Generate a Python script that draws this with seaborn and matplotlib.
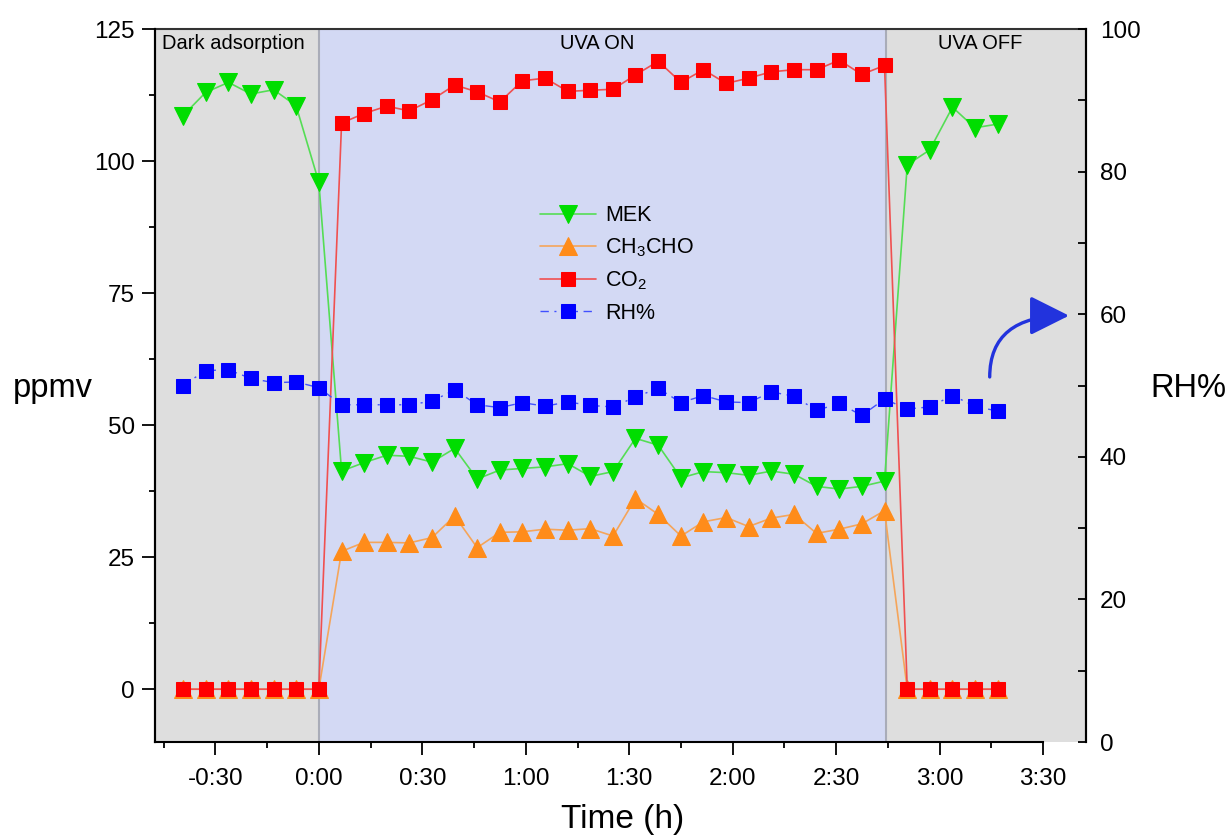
import matplotlib
matplotlib.use("Agg")
import matplotlib.pyplot as plt
from matplotlib.ticker import MultipleLocator, FuncFormatter
from matplotlib.patches import FancyArrowPatch
import pandas as pd
import seaborn as sns

# time of each sample, minutes relative to UVA switch-on
time_min = [-39.4, -32.8, -26.2, -19.7, -13.1, -6.6, 0.0,
            6.6, 13.1, 19.7, 26.2, 32.8, 39.4, 45.9, 52.5, 59.0, 65.6,
            72.2, 78.7, 85.3, 91.8, 98.4, 105.0, 111.5, 118.1, 124.6,
            131.2, 137.8, 144.3, 150.9, 157.4, 164.0,
            170.6, 177.1, 183.7, 190.2, 196.8]

mek = [108.6, 113.0, 114.9, 112.7, 113.5, 110.5, 96.0,
       41.3, 42.9, 44.3, 44.1, 43.0, 45.6, 39.8, 41.5, 41.8, 42.1,
       42.7, 40.3, 41.2, 47.5, 46.2, 40.0, 41.2, 41.0, 40.5,
       41.3, 40.7, 38.4, 37.9, 38.4, 39.4,
       99.3, 102.1, 110.2, 106.3, 107.0]

ch3cho = [0, 0, 0, 0, 0, 0, 0,
          26.1, 27.8, 27.8, 27.7, 28.7, 32.8, 26.8, 29.7, 29.8, 30.3,
          30.1, 30.4, 29.0, 36.1, 33.1, 29.0, 31.7, 32.5, 30.8,
          32.4, 33.1, 29.5, 30.3, 31.3, 33.8,
          0, 0, 0, 0, 0]

co2 = [0, 0, 0, 0, 0, 0, 0,
       107.2, 109.0, 110.4, 109.5, 111.6, 114.4, 113.1, 111.2, 115.2, 115.7,
       113.2, 113.4, 113.6, 116.3, 118.9, 114.9, 117.3, 114.7, 115.7,
       116.9, 117.3, 117.3, 119.1, 116.4, 118.1,
       0, 0, 0, 0, 0]

rh = [50.0, 52.1, 52.2, 51.0, 50.4, 50.5, 49.7,
      47.3, 47.3, 47.3, 47.3, 47.8, 49.4, 47.3, 46.9, 47.6, 47.1,
      47.7, 47.2, 47.0, 48.4, 49.6, 47.6, 48.6, 47.7, 47.6,
      49.1, 48.5, 46.5, 47.5, 45.8, 48.1,
      46.7, 47.0, 48.6, 47.1, 46.4]

uva_on_end = 164.4  # minutes

df = pd.DataFrame({"t": time_min, "MEK": mek, "CH3CHO": ch3cho,
                   "CO2": co2, "RH": rh})

sns.set_style("ticks")
plt.rcParams["font.family"] = ["Liberation Sans", "DejaVu Sans"]
plt.rcParams["mathtext.fontset"] = "custom"
plt.rcParams["mathtext.rm"] = "Liberation Sans"
for k in ("text.color", "axes.labelcolor", "xtick.color", "ytick.color",
          "xtick.labelcolor", "ytick.labelcolor"):
    plt.rcParams[k] = "black"

fig = plt.figure(figsize=(12.29, 8.39), dpi=100)
ax = fig.add_axes([0.1261, 0.1156, 0.7575, 0.8498])
xmin, xmax = -47.5, 222.4

# shaded phases
ax.axvspan(xmin, 0, color="#dedede", zorder=0, lw=0)
ax.axvspan(0, uva_on_end, color="#d3d9f4", zorder=0, lw=0)
ax.axvspan(uva_on_end, xmax, color="#dedede", zorder=0, lw=0)
ax.axvline(0, color="#a9acb8", lw=1.5, zorder=0.5)
ax.axvline(uva_on_end, color="#a9acb8", lw=1.5, zorder=0.5)

sns.lineplot(data=df, x="t", y="MEK", ax=ax, color="#55dd55", lw=1.2,
             marker="v", markersize=13, markerfacecolor="#00dd00",
             markeredgecolor="#00dd00", label="MEK", zorder=3)
sns.lineplot(data=df, x="t", y="CH3CHO", ax=ax, color="#f5a55a", lw=1.2,
             marker="^", markersize=13, markerfacecolor="#ff8c1a",
             markeredgecolor="#ff8c1a", label="CH$_3$CHO", zorder=3)
sns.lineplot(data=df, x="t", y="CO2", ax=ax, color="#f05050", lw=1.2,
             marker="s", markersize=10, markerfacecolor="#ff0000",
             markeredgecolor="#ff0000", label="CO$_2$", zorder=4)

ax2 = ax.twinx()
sns.lineplot(data=df, x="t", y="RH", ax=ax2, color="#4050ff", lw=1.0,
             linestyle=(0, (6, 4, 1.5, 4)),
             marker="s", markersize=10, markerfacecolor="#0000ff",
             markeredgecolor="#0000ff", label="RH%", zorder=3)

ax.set_xlim(xmin, xmax)
ax.set_ylim(-10, 125)
ax2.set_ylim(0, 100)


def hhmm(v, pos):
    sign = "-" if v < 0 else ""
    m = int(round(abs(v)))
    return "%s%d:%02d" % (sign, m // 60, m % 60)


ax.set_xticks(list(range(-30, 211, 30)))
ax.set_xticks(list(range(-45, 211, 15)), minor=True)
ax.xaxis.set_major_formatter(FuncFormatter(hhmm))
ax.set_yticks([0, 25, 50, 75, 100, 125])
ax.yaxis.set_minor_locator(MultipleLocator(12.5))
ax2.yaxis.set_major_locator(MultipleLocator(20))
ax2.yaxis.set_minor_locator(MultipleLocator(10))

ax.tick_params(axis="both", which="major", direction="out", length=9.5,
               width=1.3, labelsize=17.5, color="black")
ax.tick_params(axis="x", which="major", pad=9)
ax.tick_params(axis="y", which="major", pad=5)
ax.tick_params(axis="both", which="minor", direction="out", length=4.5,
               width=1.3, color="black")
ax2.tick_params(axis="y", which="major", direction="in", length=6,
                width=1.3, labelsize=17.5, pad=10)
ax2.tick_params(axis="y", which="minor", direction="in", length=6, width=1.3)

for a in (ax, ax2):
    for s in a.spines.values():
        s.set_linewidth(1.5)
        s.set_color("black")
ax.spines["bottom"].set_bounds(-47.5, 210)
ax.spines["top"].set_color("#333333")
ax2.spines["top"].set_visible(False)
ax2.spines["bottom"].set_visible(False)

ax.set_xlabel("")
ax.set_ylabel("")
ax2.set_ylabel("")

ax.text(-45.5, 122.2, "Dark adsorption", fontsize=14.5, va="center",
        ha="left")
ax.text(80.6, 122.2, "UVA ON", fontsize=14.5, va="center", ha="center")
ax.text(191.6, 122.2, "UVA OFF", fontsize=14.5, va="center", ha="center")

fig.text(0.043, 0.5375, "ppmv", fontsize=23.5, ha="center", va="center")
fig.text(0.9357, 0.5375, "RH%", fontsize=23.5, ha="left", va="center")
fig.text(0.507, 0.0235, "Time (h)", fontsize=24, ha="center", va="center")

# curved arrow pointing at the RH axis
arrow = FancyArrowPatch((194.5, 51.2), (217.5, 59.8),
                        connectionstyle="angle3,angleA=90,angleB=0",
                        arrowstyle="-|>,head_length=1.1,head_width=0.55",
                        mutation_scale=22, color="#2233dd", lw=2.4,
                        shrinkA=0, shrinkB=0, zorder=5)
ax2.add_patch(arrow)

h1, l1 = ax.get_legend_handles_labels()
h2, l2 = ax2.get_legend_handles_labels()
if ax.get_legend():
    ax.get_legend().remove()
if ax2.get_legend():
    ax2.get_legend().remove()
ax2.legend(h1 + h2, l1 + l2, loc="upper left",
           bbox_to_anchor=(0.431, 0.768), bbox_transform=fig.transFigure,
           frameon=False, fontsize=15.5, handlelength=2.6,
           handletextpad=0.4, labelspacing=0.48, borderpad=0)

fig.savefig("out.png", dpi=100)
